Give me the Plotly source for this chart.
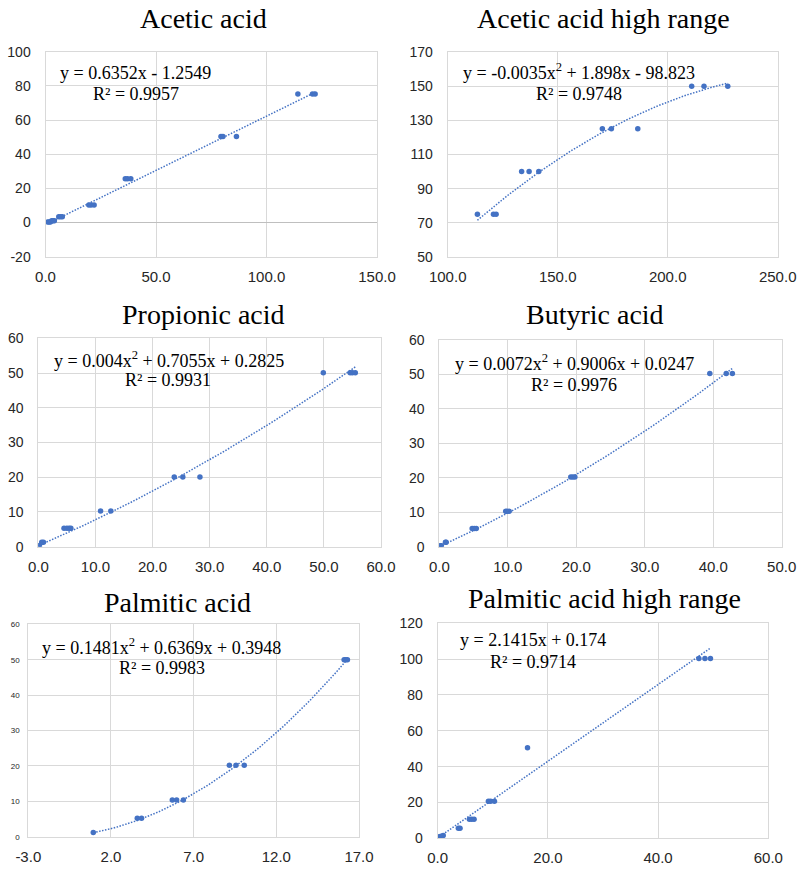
import numpy as np
import plotly.graph_objects as go

W, H = 798, 869

# ---------------- DATA ----------------
titles = ["Acetic acid", "Acetic acid high range", "Propionic acid",
          "Butyric acid", "Palmitic acid", "Palmitic acid high range"]

acetic_x = [1.0, 1.6, 2.2, 2.8, 3.4, 4.0, 6.0, 6.8, 7.6, 19.6, 20.6, 22.0,
            36.1, 37.1, 38.6, 79.4, 80.3, 86.4, 114.2, 120.8, 122.0]
acetic_y = [0.3, 0.3, 0.3, 1.1, 1.1, 1.1, 3.4, 3.4, 3.4, 10.2, 10.2, 10.2,
            25.6, 25.6, 25.6, 50.4, 50.4, 50.4, 75.2, 75.2, 75.2]

acetic_hi_x = [113.5, 120.8, 122.0, 133.6, 137.0, 141.4, 170.3, 174.4, 186.4,
               210.9, 216.5, 227.3]
acetic_hi_y = [75, 75, 75, 100, 100, 100, 125, 125, 125, 150, 150, 150]

propionic_x = [0.0, 0.2, 0.6, 0.9, 4.5, 5.0, 5.4, 5.7, 10.9, 12.7, 23.8, 25.3,
               28.3, 49.9, 54.6, 55.0, 55.5]
propionic_y = [0.3, 0.3, 1.3, 1.3, 5.3, 5.3, 5.3, 5.3, 10.3, 10.3, 20.1, 20.1,
               20.1, 50.1, 50.1, 50.1, 50.1]

butyric_x = [0.0, 0.2, 0.3, 0.9, 1.0, 4.8, 5.1, 5.4, 9.7, 9.9, 10.2, 19.2,
             19.5, 19.8, 39.5, 41.9, 42.8]
butyric_y = [0.3, 0.3, 0.3, 1.3, 1.3, 5.3, 5.3, 5.3, 10.3, 10.3, 10.3, 20.2,
             20.2, 20.2, 50.3, 50.3, 50.3]

palmitic_x = [0.93, 3.59, 3.85, 5.71, 5.97, 6.38, 9.16, 9.56, 10.06, 16.1,
              16.2, 16.3]
palmitic_y = [1.2, 5.2, 5.2, 10.4, 10.4, 10.4, 20.2, 20.2, 20.2, 50.0, 50.0,
              50.0]

palmitic_hi_x = [0.0, 0.3, 0.6, 1.0, 3.75, 4.05, 5.75, 6.17, 6.6, 9.2, 9.6,
                 10.3, 16.3, 47.4, 48.5, 49.5]
palmitic_hi_y = [0.5, 0.9, 1.2, 1.5, 5.6, 5.6, 10.6, 10.6, 10.6, 20.7, 20.7,
                 20.7, 50.6, 100.3, 100.3, 100.3]

# trendline coefficients (highest power first), as printed on the chart
acetic_fit = [0.6352, -1.2549]
acetic_hi_fit = [-0.0035, 1.898, -98.823]
propionic_fit = [0.004, 0.7055, 0.2825]
butyric_fit = [0.0072, 0.9006, 0.0247]
palmitic_fit = [0.1481, 0.6369, 0.3948]
palmitic_hi_fit = [2.1415, 0.174]

equations = ["y = 0.6352x - 1.2549",
             "y = -0.0035x<sup>2</sup> + 1.898x - 98.823",
             "y = 0.004x<sup>2</sup> + 0.7055x + 0.2825",
             "y = 0.0072x<sup>2</sup> + 0.9006x + 0.0247",
             "y = 0.1481x<sup>2</sup> + 0.6369x + 0.3948",
             "y = 2.1415x + 0.174"]
r2_labels = ["R² = 0.9957", "R² = 0.9748", "R² = 0.9931",
             "R² = 0.9976", "R² = 0.9983", "R² = 0.9714"]

# tick values / labels
x_ticks = [[0, 50, 100, 150], [100, 150, 200, 250], [0, 10, 20, 30, 40, 50, 60],
           [0, 10, 20, 30, 40, 50], [-3, 2, 7, 12, 17], [0, 20, 40, 60]]
x_ticktext = [["0.0", "50.0", "100.0", "150.0"],
              ["100.0", "150.0", "200.0", "250.0"],
              ["0.0", "10.0", "20.0", "30.0", "40.0", "50.0", "60.0"],
              ["0.0", "10.0", "20.0", "30.0", "40.0", "50.0"],
              ["-3.0", "2.0", "7.0", "12.0", "17.0"],
              ["0.0", "20.0", "40.0", "60.0"]]
y_ticks = [[-20, 0, 20, 40, 60, 80, 100], [50, 70, 90, 110, 130, 150, 170],
           [0, 10, 20, 30, 40, 50, 60], [0, 10, 20, 30, 40, 50, 60],
           [0, 10, 20, 30, 40, 50, 60], [0, 20, 40, 60, 80, 100, 120]]
y_ticktext = [["-20", "0", "20", "40", "60", "80", "100"],
              ["50", "70", "90", "110", "130", "150", "170"],
              ["0", "10", "20", "30", "40", "50", "60"],
              ["0", "10", "20", "30", "40", "50", "60"],
              ["0", "10", "20", "30", "40", "50", "60"],
              ["0", "20", "40", "60", "80", "100", "120"]]

series_x = [acetic_x, acetic_hi_x, propionic_x, butyric_x, palmitic_x, palmitic_hi_x]
series_y = [acetic_y, acetic_hi_y, propionic_y, butyric_y, palmitic_y, palmitic_hi_y]
fits = [acetic_fit, acetic_hi_fit, propionic_fit, butyric_fit, palmitic_fit, palmitic_hi_fit]

# ---------------- LAYOUT (window pixel boxes) ----------------
boxes = [(45.5, 377, 51.7, 256.7), (447.7, 777.7, 52, 257),
         (38.3, 381, 338.3, 546.7), (439.3, 781.7, 340, 546.7),
         (28.3, 359, 624.3, 836.7), (437.7, 768.3, 623.3, 838.3)]
title_pos = [(203.3, 18), (603.3, 18), (203.7, 314), (594.5, 314),
             (177, 602), (604, 598)]
eq_pos = [(135.4, 73), (579, 72), (169, 359.3), (574, 362.7), (161.5, 646), (532.8, 640)]
r2_pos = [(135.5, 94.5), (579, 93.5), (168.3, 380), (574, 384.5), (161.5, 667.5), (532.8, 661.7)]
y_tick_size = [14, 14, 14, 14, 8, 14]

BLUE = "#4472C4"
GRID = "#d9d9d9"
SERIF = "Liberation Serif, Times New Roman, serif"
SANS = "Liberation Sans, Arial, sans-serif"


def px(x):
    return x / W


def py(y):
    return 1 - y / H


fig = go.Figure()
layout = dict(template="none", width=W, height=H,
              margin=dict(l=0, r=0, t=0, b=0, autoexpand=False),
              paper_bgcolor="white", plot_bgcolor="white", showlegend=False)
annotations = []

for i in range(6):
    n = "" if i == 0 else str(i + 1)
    xa, ya = "x" + n, "y" + n
    l, r, t, b = boxes[i]
    xs, ys = series_x[i], series_y[i]
    xf = np.linspace(min(xs), max(xs), 80)
    yf = np.polyval(fits[i], xf)
    fig.add_trace(go.Scatter(x=xf, y=yf, mode="lines", xaxis=xa, yaxis=ya,
                             line=dict(color=BLUE, width=1.5, dash="1.5px,1.5px"),
                             hoverinfo="skip"))
    fig.add_trace(go.Scatter(x=xs, y=ys, mode="markers", xaxis=xa, yaxis=ya,
                             marker=dict(color=BLUE, size=5.5, line=dict(width=0))))
    layout["xaxis" + n] = dict(
        domain=[px(l), px(r)], anchor=ya, automargin=False,
        range=[x_ticks[i][0], x_ticks[i][-1]],
        tickmode="array", tickvals=x_ticks[i], ticktext=x_ticktext[i],
        showgrid=True, gridcolor=GRID, gridwidth=1,
        showline=True, mirror=True, linecolor=GRID, linewidth=1,
        zeroline=False, ticks="", ticklabelstandoff=6,
        tickfont=dict(family=SANS, size=15, color="#262626"))
    layout["yaxis" + n] = dict(
        domain=[py(b), py(t)], anchor=xa, automargin=False,
        range=[y_ticks[i][0], y_ticks[i][-1]],
        tickmode="array", tickvals=y_ticks[i], ticktext=y_ticktext[i],
        showgrid=True, gridcolor=GRID, gridwidth=1,
        showline=True, mirror=True, linecolor=GRID, linewidth=1,
        zeroline=(i == 0), zerolinecolor="#bfbfbf", zerolinewidth=1,
        ticks="", ticklabelstandoff=(11 if i != 4 else 6),
        tickfont=dict(family=SANS, size=y_tick_size[i], color="#262626"))

    annotations.append(dict(text=titles[i], x=px(title_pos[i][0]), y=py(title_pos[i][1]),
                            xref="paper", yref="paper", xanchor="center", yanchor="middle",
                            showarrow=False,
                            font=dict(family=SERIF, size=28, color="black")))
    annotations.append(dict(text=equations[i], x=px(eq_pos[i][0]), y=py(eq_pos[i][1]),
                            xref="paper", yref="paper", xanchor="center", yanchor="middle",
                            showarrow=False,
                            font=dict(family=SERIF, size=18, color="black")))
    annotations.append(dict(text=r2_labels[i], x=px(r2_pos[i][0]), y=py(r2_pos[i][1]),
                            xref="paper", yref="paper", xanchor="center", yanchor="middle",
                            showarrow=False,
                            font=dict(family=SERIF, size=18, color="black")))

layout["annotations"] = annotations
fig.update_layout(**layout)
fig.write_html("out.html",
               config={"displayModeBar": False},
               post_script="document.body.style.margin='0';"
                           "document.body.style.overflow='hidden';")
